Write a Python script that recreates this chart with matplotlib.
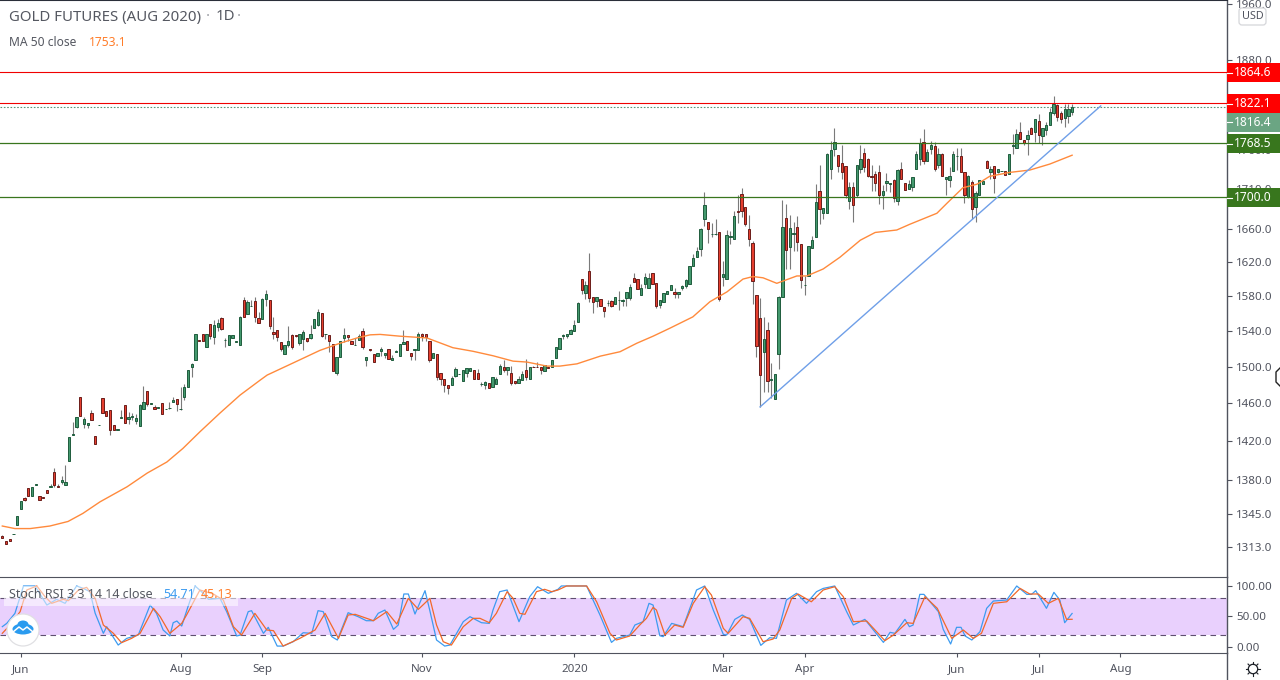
# Gold futures daily chart with MA 50 and a Stoch RSI pane

import numpy as np
import matplotlib.pyplot as plt
from matplotlib.patches import Rectangle, Circle, FancyBboxPatch, Ellipse

opens = [1324,1319,1321,1325.5,1335,1350,1361,1371,1363,1374.5,
         1363,1362,1369,1372.5,1388,1373,1378,1374,1399,1426.5,
         1435,1467,1438,1437,1450,1425,1436.5,1466,1452,1453,
         1437,1431.5,1444.5,1458,1443,1445,1441,1436,1454,1473,
         1459.5,1456,1455,1460,1453.5,1454.5,1461,1465,1453.5,1467,
         1478,1500,1507,1530,1537,1522,1548,1533,1544,1555,
         1529.5,1524,1532,1527.5,1524,1576,1559,1568.5,1574,1555,
         1554,1577,1575,1539,1541,1527,1514,1524,1535,1535,
         1526,1531,1532,1532,1543,1547,1560,1536.5,1535,1525,
         1493,1511,1532,1535,1528,1523.5,1530,1540,1507,1520,
         1514,1512,1517,1513,1519,1507,1516.5,1512,1525,1528,
         1515,1518,1518,1537,1537,1528,1510,1514,1493,1486,
         1480,1480,1490,1491.5,1484,1493,1495,1496,1493,1480.5,
         1480,1482,1477,1481,1492,1499,1496,1493,1484,1482,
         1485,1496,1486,1500,1500,1499,1495,1500,1499,1509,
         1520,1534.5,1534,1537,1540,1550,1600,1584,1609,1579,
         1574,1577,1567,1571.5,1574,1571,1575.5,1574.5,1578,1578,
         1601,1600,1581,1594,1589,1607,1595,1570,1573,1583,
         1587,1585,1582,1589,1592,1594,1616,1626,1636,1673,
         1669,1653.5,1653.5,1657,1602,1600,1650,1648,1683,1704,
         1687,1660,1643,1581,1555,1516,1541,1485.5,1465,1514,
         1579,1674,1638,1654.5,1663,1642,1592.5,1604,1637,1650,
         1708,1680,1680,1735,1761,1753,1743,1739,1695,1713,
         1702,1736,1756,1748,1726,1729,1731,1702,1717,1716,
         1721,1695,1736,1717,1710,1713,1735,1748,1770,1745,
         1761,1765,1741,1755,1722,1721,1733,1751.5,1752,1732,
         1700,1719,1688,1703,1716,1745,1731,1739,1731,1732.5,
         1733,1729,1765.5,1763,1784,1773,1774,1789,1783,1798,
         1778,1786,1793,1808,1819,1809,1802,1804,1810]
highs = [1325,1319,1321,1326,1343,1358,1362,1371,1372,1375,
         1363,1362.5,1369,1375,1392,1375,1384,1395,1424,1440,
         1445,1467,1445,1439,1453,1425,1437,1466,1452,1453,
         1437,1432,1453,1458,1451,1449,1448,1459,1479,1473,
         1460,1458,1456,1460,1454,1461,1467,1465,1478,1481,
         1496,1504,1537,1530,1537,1536,1548,1552,1554,1556,
         1532,1535,1535,1528,1557,1579,1575,1575,1579,1562,
         1578,1587,1575,1556,1541,1527,1524,1545,1536,1535,
         1537,1541,1532,1547,1553,1565,1560,1537,1535,1525,
         1511,1529,1543,1535,1528,1532,1537,1543,1511,1520,
         1514,1515,1522,1515,1519,1513,1518,1525,1541,1528,
         1515,1519,1539,1538,1537,1528,1515,1514,1493,1486,
         1480,1490,1499,1492,1496,1498,1498,1496,1497,1483,
         1484,1482,1489,1488,1503,1507,1500,1501,1484,1490,
         1495,1508,1499,1501,1505,1499,1502,1500,1507,1522,
         1532,1536,1536,1542,1552,1573,1600,1598,1631,1579,
         1579,1577,1567,1575,1576,1579,1586,1577,1585,1594,
         1607,1600,1594,1607,1607,1607,1595,1576,1584,1586,
         1593,1590,1585,1593,1600,1616,1630,1638,1661,1706,
         1669,1667,1672,1657,1621,1659,1658,1683,1702,1711,
         1688,1677,1645,1581,1578,1556,1550,1504,1492,1580,
         1696,1691,1677,1669,1676,1642,1604,1640,1652,1716,
         1740,1686,1756,1772,1789,1754,1767,1739,1719,1719,
         1741,1767,1762,1749,1741,1733,1741,1715,1730,1717,
         1723,1735,1744,1717,1721,1725,1759,1775,1787,1761,
         1771,1770,1762,1756,1725,1738,1759,1763,1763,1732,
         1728,1721,1707,1721,1720,1747,1739,1739,1735,1733,
         1733,1755,1781,1787,1796,1773,1786,1790,1801,1807,
         1789,1796,1815,1831,1820,1811,1820,1820,1820]
lows = [1322,1316,1319,1325.5,1335,1350,1358,1363,1363,1374.5,
        1359,1361.5,1366,1372.5,1372,1372,1375,1374,1399,1426,
        1434,1446,1433,1433,1442,1417,1436.5,1449,1446,1426,
        1431,1431.5,1444.5,1439,1438,1442,1438,1436,1454,1457,
        1459.5,1454,1455,1448,1453.5,1454,1461,1452,1453,1463,
        1478,1489,1507,1528,1528,1522,1531,1525,1540,1541,
        1522,1524,1532,1527.5,1524,1556,1559,1568,1550,1549,
        1554,1569,1542,1531,1528,1517,1514,1522,1520,1533,
        1524,1518,1527,1531,1543,1546,1533,1531,1516,1495,
        1491,1511,1527,1529,1525,1523.5,1530,1520,1501,1517,
        1505,1512,1512,1509,1508,1507,1516.5,1512,1525,1518,
        1507,1507,1518,1528,1528,1505,1510,1485,1480,1472,
        1470,1480,1488,1491.5,1484,1488,1495,1486,1486,1479,
        1475,1476,1477,1481,1492,1494,1491,1480,1481,1482,
        1485,1485,1486,1499,1499,1492,1495,1498,1499,1509,
        1520,1531,1532,1537,1540,1550,1582,1577,1573,1561,
        1567,1569,1556,1569,1567,1571,1564,1568,1568,1576,
        1596,1588,1581,1589,1589,1594,1566,1566,1573,1583,
        1587,1578,1578,1587,1590,1594,1616,1626,1628,1664,
        1643,1651,1653,1574,1592,1600,1642,1648,1667,1675,
        1664,1640,1571,1511,1456,1472,1472,1466,1465,1497,
        1579,1612,1612,1633,1633,1589,1581,1604,1637,1650,
        1666,1672,1680,1722,1752,1732,1722,1698,1685,1669,
        1700,1730,1732,1725,1708,1708,1691,1685,1707,1706,
        1693,1690,1723,1709,1710,1708,1735,1741,1742,1745,
        1755,1733,1737,1727,1702,1713,1733,1734,1731,1692,
        1698,1672,1669,1703,1716,1737,1723,1705,1730,1732.5,
        1728,1729,1755,1763,1774,1766,1754,1781,1770,1769,
        1766,1780,1793,1806,1798,1795,1790,1795,1806]
closes = [1322,1316,1319,1326,1343,1358,1359,1363,1372,1375,
          1359,1361.5,1366,1373,1374,1372,1380,1378,1424,1427,
          1445,1446,1443,1439,1442,1417,1437,1450,1446,1431,
          1431,1432,1445,1439,1445,1446,1444,1458,1461,1459,
          1460,1454,1456,1448,1454,1455,1463,1459,1454,1477,
          1496,1503,1537,1528,1528,1536,1534,1547,1549,1542,
          1530,1535,1535,1528,1556,1556,1573,1569,1556,1549,
          1577,1582,1546,1536,1533,1520,1524,1529,1522,1534,
          1536,1539,1528,1537,1553,1562,1534,1537,1528,1495,
          1511,1529,1535,1533,1525,1524,1534,1522,1511,1518,
          1505,1515,1520,1515,1508,1509,1517,1525,1527,1518,
          1512,1519,1536,1534,1533,1507,1515,1489,1486,1480,
          1476,1487,1497,1492,1496,1498,1498,1486,1486,1481,
          1483,1476,1489,1486,1501,1496,1500,1482,1482,1486,
          1492,1489,1499,1499,1499,1496,1502,1498,1507,1522,
          1532,1535,1536,1541,1547,1572,1587,1593,1578,1573,
          1579,1569,1563,1572,1569,1579,1576,1575,1585,1591,
          1596,1588,1589,1602,1601,1594,1568,1576,1584,1586,
          1593,1582,1585,1592,1599,1616,1625,1634,1660,1690,
          1660,1654,1654,1577,1606,1653,1652,1676,1681,1682,
          1666,1648,1598,1523,1491,1531,1484,1486,1492,1579,
          1663,1635,1661,1655,1644,1599,1593,1640,1647,1693,
          1685,1686,1755,1760,1770,1739,1731,1702,1712,1690,
          1740,1748,1738,1726,1725,1717,1702,1708,1720,1717,
          1698,1734,1723,1709,1716,1725,1755,1769,1745,1757,
          1767,1736,1755,1727,1725,1726,1755,1752,1731,1703,
          1726,1685,1705,1721,1720,1737,1736,1724,1735,1733,
          1728,1755,1766,1781,1774,1769,1780,1781,1800,1779,
          1789,1793,1810,1820,1803,1801,1814,1814,1816.4]

# MA 50, read at the bends of the line
ma_days = [0,3.4,7.5,12.8,17.7,21.7,26.3,33.6,39,44.3,48.6,53.2,58.6,64,69.4,71.3,
           78.3,85.5,90.9,95.5,99,101.7,107,114.3,117.8,121.3,126.7,132.1,137.5,
           141.2,146.6,150.1,154.7,161,166.3,170.8,175.2,179.7,185.9,190.5,195.1,
           199.4,202.1,204.8,208.5,213.9,216.6,221,225.5,231,235,240.8,244.3,
           251.6,254.3,258.6,262.4,265.8,271.2,276.6,282,288]
ma_values = [1333.5,1331,1331,1333.5,1338,1346,1357.5,1372.7,1386.6,1398,1412,1429.5,
             1449.4,1468.7,1485,1490.6,1504,1518,1526,1532,1535.5,1536,1534,1532,
             1526.5,1521,1517,1512,1506,1505,1500.5,1500.5,1503,1511.6,1516.5,1526,
             1534,1543,1556,1573.5,1585,1600,1603,1601.5,1595,1603.7,1603.7,1612,1626,
             1646.6,1656,1659,1666,1679.6,1692,1711.5,1716,1726,1731,1734,1741.7,1753.1]

# Stoch RSI lines
k_days = [0,1.2,3.4,5.7,8.8,12,14.6,16.9,20,21.8,23.6,25,27.2,28.1,31.2,33.5,36.6,39.8,
          41.5,43.3,45.1,46,47,48.3,50,51.9,54.1,55.5,58.6,60.4,63.1,64,66.2,67.1,70.3,
          71.6,74,75.6,78.3,81,83.3,85,86.4,88.7,90.2,93.1,95.8,98,99.9,101.2,103,105.3,
          106.6,108.1,109.3,111.1,113.8,115.1,116.9,119.1,120.5,124.1,125.9,129,131.1,
          132.1,133.9,135.9,139.1,142,144.1,147,149.6,150.5,157.3,160.9,164,165.3,168.9,
          170.3,172.5,174.1,175.2,177,177.9,180.2,183.3,186.9,189.1,191.4,194.1,195,
          197.2,199.2,201.2,204.2,206.6,208.4,211.1,213.8,216.5,219.2,221,224.1,227.3,
          229.1,232.2,237.2,239,240.3,243,244.2,245.2,247,248.1,252,253.3,255.3,256.9,
          258.1,259.2,261,263.2,265,266.8,270.4,273.1,275.8,277.1,278.2,281.1,283.1,
          284.7,286,288]
k_values = [33,38.4,54.9,100,100,68.6,78,71.4,100,96,90.6,55,22,33,2.7,13.7,19.2,68.6,
            55,27.5,17.6,39.5,42.3,34,66,100,88,78,79.6,57.7,17.6,19,57.7,59.3,22,
            31.9,1,1,8.2,23,22,59.3,57.7,16.5,11,56,49.4,42.8,42.8,55,60.4,28.6,
            35.7,86.8,86.8,53.8,92.3,59.3,11,1,2.7,41.2,49.4,39.5,38.4,
            60.4,90.6,93.4,41.2,82.4,98.8,87.9,94.5,100,100,52.2,7.1,13.7,19.2,
            35.7,41.2,71.4,68.6,18.1,16.5,38.4,33,93.4,100,60.4,20.3,19.2,
            45,52.2,45,2.2,14.8,13.7,76.9,87.9,71.4,90.6,96,100,57.7,
            35.7,45,7.1,23.6,22,45,33,35.7,86.2,86.2,57.7,28.6,4.4,31.9,
            31.9,17.6,11,24.7,63.2,75.2,76.9,100,86.2,86.2,92.3,63.2,89.5,
            76.9,39.5,54.71]
d_days = [0,2.1,4.8,6.6,9.3,11.5,13.3,16.4,17.8,20.5,22.7,25,27.2,29.9,32.1,34.8,37.1,
          40.7,42.5,45.1,48.3,49.6,53.2,56.8,59.5,62.2,64.4,68,71.2,73,75.6,80.1,84.2,
          86.9,90.5,93.1,95,99.9,103.5,106.2,109.3,112,115.1,116.9,118.7,120.9,124.1,
          126.8,128.6,131.1,133,135.9,137.5,139.3,140.7,143.8,146,147.9,149.6,151.9,
          157.3,160,163.6,165.3,168.9,171.6,173.4,175.2,176.1,178.4,181,183.3,186,
          189.1,190.9,194.1,195.4,199.4,201.2,204.8,207.5,209.3,212.5,214.2,217.8,221,
          224.1,226.4,229.1,232.7,237.6,239.9,243.5,245.2,248.4,251.7,255.6,258.7,
          261.4,263.6,266.8,270.4,274,276.6,278.9,281.6,284.3,286.5,288]
d_values = [22,35.7,57.7,93.4,100,82.4,71.4,78,75.8,93.4,97.7,79.6,35.7,22,6.6,13.7,22,
            63.2,49.4,22,38.4,52.2,93.4,86.8,76.9,33,19.2,54.9,27.5,26.4,1,13.7,27.5,
            54.9,13.7,52.2,53.3,42.8,57.7,37.3,79.6,61.5,79.6,35.7,8.2,2.7,33,
            46.7,46.7,39.5,54.9,90.6,79.6,54.9,53.3,90.6,94.5,90.6,93.4,100,
            100,74,22,11,17.6,35.7,46.7,64.8,60.4,19.2,35.7,31.9,71.4,
            98.8,85.1,30.2,22,49.4,46.7,8.2,12.6,27.5,79.6,86.8,74,93.4,
            98.8,82.4,41.2,42.3,9.9,19.2,39.5,38.4,82.4,63.2,13.7,27.5,
            13.7,22,71.4,74,96,86.8,86.8,71.4,79.6,45,45.13]

date_ticks = [5,48,70,113,154,194,216,257,279,301]
date_labels = ['Jun','Aug','Sep','Nov','2020','Mar','Apr','Jun','Jul','Aug']
price_ticks = [1313,1345,1380,1420,1460,1500,1540,1580,1620,1660,1710,1760,1880,1960]
stoch_ticks = [0,50,100]

level_up = [1864.6,1822.1]
level_down = [1768.5,1700.0]
trend_days = [204,295.7]
trend_prices = [1456,1818]

TEXT = '#50535e'
plt.rcParams['font.family'] = ['Noto Sans', 'DejaVu Sans']

fig = plt.figure(figsize=(12.8, 6.8), dpi=100)
W, H = 1280, 680
ax = fig.add_axes([0, (H - 577.3) / H, 1227 / W, 577.3 / H])
osc = fig.add_axes([0, (H - 653.3) / H, 1227 / W, 76 / H])
ui = fig.add_axes([0, 0, 1, 1], zorder=10)
ui.set_xlim(0, W)
ui.set_ylim(H, 0)
ui.axis('off')
ui.patch.set_alpha(0)

days = np.arange(len(opens))
o, h, l, c = map(np.array, (opens, highs, lows, closes))
up = c >= o

# candles
ax.vlines(days, l, h, color='#7a7a7a', linewidth=0.8, zorder=2)
ax.bar(days[up], (c - o)[up], bottom=o[up], width=0.62, color='#44996e',
       edgecolor='#1f5c3d', linewidth=0.7, zorder=3)
ax.bar(days[~up], (c - o)[~up], bottom=o[~up], width=0.62, color='#e53e2e',
       edgecolor='#6b1d1a', linewidth=0.7, zorder=3)

ax.plot(ma_days, ma_values, color='#ff8a3c', linewidth=1.0, zorder=4)
for lv in level_up:
    ax.axhline(lv, color='#f00000', linewidth=0.8, zorder=5)
for lv in level_down:
    ax.axhline(lv, color='#38761d', linewidth=0.9, zorder=5)
ax.axhline(closes[-1], color='#5f9378', linewidth=0.8, linestyle=(0, (1.5, 1.5)), zorder=1)
ax.plot(trend_days, trend_prices, color='#6f9fe8', linewidth=1.0, zorder=5)

ax.set_yscale('log')
ax.set_xlim(-0.62, 329.7)
ax.set_ylim(1284.0, 1965.8)
ax.yaxis.set_minor_locator(plt.NullLocator())
ax.yaxis.set_minor_formatter(plt.NullFormatter())
ax.yaxis.tick_right()
ax.set_yticks(price_ticks)
ax.set_yticklabels(['%.1f' % p for p in price_ticks])
ax.set_xticks([])

# stoch pane
osc.axhspan(20, 80, color='#e9d0fd', linewidth=0, zorder=1)
osc.axhline(80, color='#5f5070', linewidth=0.8, linestyle=(0, (5, 4)), zorder=2)
osc.axhline(20, color='#5f5070', linewidth=0.8, linestyle=(0, (5, 4)), zorder=2)
osc.plot(k_days, k_values, color='#3d9bf0', linewidth=0.9, zorder=3)
osc.plot(d_days, d_values, color='#f2682a', linewidth=0.9, zorder=4)
osc.set_xlim(-0.62, 329.7)
osc.set_ylim(-10.9, 114.3)
osc.yaxis.tick_right()
osc.set_yticks(stoch_ticks)
osc.set_yticklabels(['%.2f' % s for s in stoch_ticks])
osc.set_xticks(date_ticks)
osc.set_xticklabels(date_labels)
for t, lab in zip(osc.get_xticklabels(), date_labels):
    if lab == '2020':
        t.set_fontweight('bold')

for a in (ax, osc):
    for side in ('left', 'bottom', 'top', 'right'):
        a.spines[side].set_visible(False)
    a.spines['right'].set_visible(True)
    a.spines['right'].set_color(TEXT)
    a.spines['right'].set_linewidth(1.0)
    a.tick_params(axis='y', colors=TEXT, labelsize=8.3, length=3.5, width=0.8, pad=3)
    a.tick_params(axis='x', colors=TEXT, labelsize=8.3, length=3, width=0.8, pad=5)
osc.spines['top'].set_visible(True)
osc.spines['top'].set_color(TEXT)
osc.spines['bottom'].set_visible(True)
osc.spines['bottom'].set_color(TEXT)
ax.spines['top'].set_visible(True)
ax.spines['top'].set_color('#2a2e39')
ax.spines['top'].set_linewidth(1.5)

# rule beside the date row and the price tags, in pixels
ui.plot([1227, 1227], [653, 680], color=TEXT, linewidth=1.0)

def tag(y, label, color):
    ui.add_patch(Rectangle((1227, y - 9.5), 53, 19, color=color, linewidth=0, zorder=3))
    ui.plot([1227, 1232], [y, y], color='white', linewidth=0.8, zorder=4)
    ui.text(1253, y, label, color='white', fontsize=8.6, fontweight='semibold',
            ha='center', va='center', zorder=5)

tag(72.5, '%.1f' % level_up[0], '#ff0000')
tag(103.5, '%.1f' % level_up[1], '#ff0000')
tag(122, '%.1f' % closes[-1], '#6ba583')
tag(143.5, '%.1f' % level_down[0], '#38761d')
tag(197.5, '%.1f' % level_down[1], '#38761d')

ui.add_patch(FancyBboxPatch((1239, 8), 27, 17, boxstyle='round,pad=0,rounding_size=3',
                            facecolor='white', edgecolor='#d5d6da', linewidth=0.9, zorder=3))
ui.text(1252.5, 16.5, 'USD', color=TEXT, fontsize=7.8, ha='center', va='center', zorder=4)

# legends
ui.text(9, 17, 'GOLD FUTURES (AUG 2020)', color='#555861', fontsize=10.8, va='center')
ui.text(206, 17, '·', color='#a0a2a8', fontsize=10.8, va='center')
ui.text(216, 17, '1D', color='#555861', fontsize=10.8, va='center')
ui.text(237, 17, '·', color='#a0a2a8', fontsize=10.8, va='center')
ui.text(9, 42, 'MA 50 close', color='#555861', fontsize=8.7, va='center')
ui.text(89, 42, '1753.1', color='#ff7d2a', fontsize=8.7, va='center')

ui.add_patch(Rectangle((4, 586), 234, 20, facecolor='white', alpha=0.55, linewidth=0, zorder=1))
ui.text(9, 594.5, 'Stoch RSI 3 3 14 14 close', color='#555861', fontsize=9.0, va='center', zorder=2)
ui.text(163, 594.5, '%.2f' % k_values[-1], color='#3d9bf0', fontsize=9.0, va='center', zorder=2)
ui.text(201, 594.5, '%.2f' % d_values[-1], color='#ff7d2a', fontsize=9.0, va='center', zorder=2)

# logo
ui.add_patch(Circle((23, 630), 16, facecolor='white', edgecolor='#e0e0e3', linewidth=0.9, zorder=3))
ui.add_patch(Ellipse((23, 629), 21, 11, color='#2a9bef', linewidth=0, zorder=4))
ui.add_patch(Ellipse((23, 624.5), 11, 8, color='#2a9bef', linewidth=0, zorder=4))
ui.plot([13, 19, 23, 27, 33], [632, 627, 630, 627, 632], color='white', linewidth=1.1, zorder=5)

# settings icon and the cursor at the edge
ui.add_patch(Circle((1253, 669), 4.7, facecolor='none', edgecolor='#1c1f26', linewidth=0.9))
for ang in np.arange(0, 2 * np.pi, np.pi / 4):
    ui.plot([1253 + 4.7 * np.cos(ang), 1253 + 7 * np.cos(ang)],
            [669 + 4.7 * np.sin(ang), 669 + 7 * np.sin(ang)], color='#1c1f26', linewidth=0.8)
ui.plot([1280, 1276, 1276, 1280], [368, 372, 382, 386], color='#222222', linewidth=1.0)

fig.savefig('out.png', dpi=100, facecolor='white')
